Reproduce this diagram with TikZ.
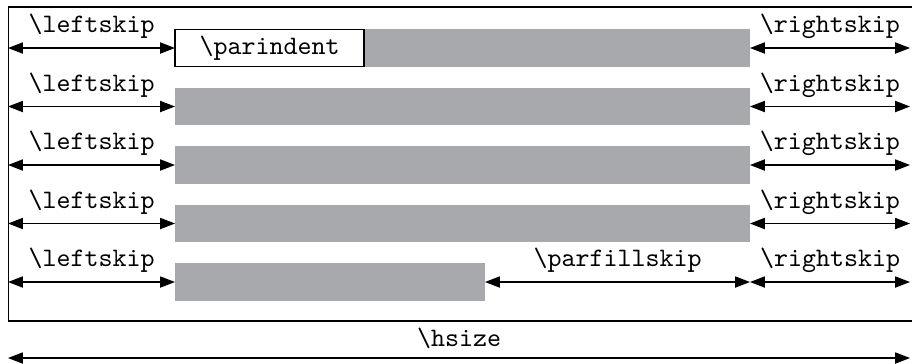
\documentclass[tikz,border=0pt]{standalone}
\usetikzlibrary{arrows.meta}
\definecolor{bargray}{RGB}{167,169,172}
\begin{document}
\begin{tikzpicture}[x=0.375pt,y=-0.375pt,
  tip/.style={Triangle[length=5.6pt,width=4.2pt]},
  dim/.style={{Triangle[length=5.6pt,width=4.2pt]}-{Triangle[length=5.6pt,width=4.2pt]}, line width=0.45pt},
  lbl/.style={above, font=\ttfamily, inner sep=3.3pt},
  bar/.style={fill=bargray, draw=none, inner sep=0pt, outer sep=0pt, anchor=west, minimum height=13.9pt},
  fullbar/.style={bar, minimum width=215.6pt},
  indentbox/.style={fill=white, draw=black, line width=0.45pt, inner sep=0pt, outer sep=0pt, anchor=west, minimum height=13.9pt, minimum width=70.9pt, font=\ttfamily}
]
\useasboundingbox (0,0) rectangle (912,363);
\draw[line width=0.5pt] (8.5,7) rectangle (914,321);
% rows
\foreach \r/\yy in {1/48,2/106.5,3/165,4/223.5} {
  \node[fullbar] (B\r) at (175,\yy) {};
  \coordinate (L\r) at (8,\yy);
  \coordinate (R\r) at (910,\yy);
}
\node[indentbox] (P) at (175,48) {\textbackslash parindent};
\node[bar, minimum width=116.25pt] (B5) at (175,282) {};
\coordinate (L5) at (8,282);
\coordinate (M5) at (750,282);
\coordinate (R5) at (910,282);
% dimension arrows
\draw[dim] (L1) -- node[lbl]{\textbackslash leftskip} (P.west);
\foreach \r in {2,3,4} {
  \draw[dim] (L\r) -- node[lbl]{\textbackslash leftskip} (B\r.west);
}
\foreach \r in {1,2,3,4} {
  \draw[dim] (B\r.east) -- node[lbl]{\textbackslash rightskip} (R\r);
}
\draw[dim] (L5) -- node[lbl]{\textbackslash leftskip} (B5.west);
\draw[dim] (B5.east) -- node[lbl]{\textbackslash parfillskip} (M5);
\draw[dim] (M5) -- node[lbl]{\textbackslash rightskip} (R5);
% hsize
\coordinate (HL) at (8,358);
\coordinate (HR) at (910,358);
\draw[dim] (HL) -- node[lbl]{\textbackslash hsize} (HR);
\end{tikzpicture}
\end{document}
